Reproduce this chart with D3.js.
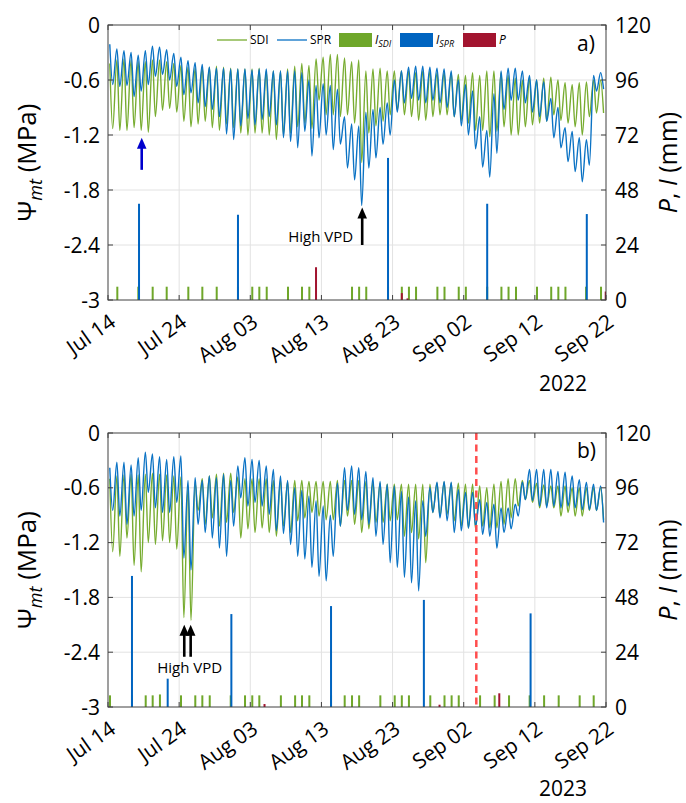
<!DOCTYPE html>
<html>
<head>
<meta charset="utf-8">
<script src="https://cdn.jsdelivr.net/npm/d3@7"></script>
<style>
  body { margin: 0; background: #fff; }
  text { font-family: "Open Sans", "Noto Sans", sans-serif; fill: #000; }
</style>
</head>
<body>
<svg id="chart" width="686" height="803"></svg>
<script>
// ---------- axis labels ----------
const dateTicks = ["Jul 14", "Jul 24", "Aug 03", "Aug 13", "Aug 23", "Sep 02", "Sep 12", "Sep 22"];
const dateTickDays = [0, 10, 20, 30, 40, 50, 60, 70];
const psiTicks = [0, -0.6, -1.2, -1.8, -2.4, -3];
const psiLabels = ["0", "-0.6", "-1.2", "-1.8", "-2.4", "-3"];
const mmTicks = [0, 24, 48, 72, 96, 120];

// ---------- 2022: daily maximum / minimum of Ψmt (MPa), one value per day from Jul 14 ----------
const sdiMax2022 = [-0.42,-0.38,-0.37,-0.38,-0.40,-0.40,-0.38,-0.38,-0.40,-0.42,
  -0.44,-0.46,-0.47,-0.46,-0.46,-0.45,-0.46,-0.47,-0.48,-0.48,
  -0.48,-0.47,-0.50,-0.50,-0.50,-0.48,-0.45,-0.42,-0.44,-0.37,
  -0.35,-0.32,-0.32,-0.36,-0.40,-0.38,-0.50,-0.48,-0.47,-0.50,
  -0.50,-0.50,-0.50,-0.52,-0.50,-0.50,-0.52,-0.52,-0.52,-0.54,
  -0.55,-0.52,-0.55,-0.50,-0.50,-0.52,-0.55,-0.58,-0.60,-0.58,
  -0.60,-0.58,-0.57,-0.60,-0.63,-0.65,-0.63,-0.62,-0.60,-0.60];
const sdiMin2022 = [-1.13,-1.15,-1.15,-1.12,-1.15,-1.17,-1.00,-0.93,-0.91,-0.95,
  -1.05,-1.11,-1.08,-1.05,-1.12,-1.15,-1.08,-1.12,-1.18,-1.20,
  -1.18,-1.18,-1.20,-1.25,-1.20,-1.18,-1.11,-1.07,-1.13,-0.82,
  -0.98,-0.98,-1.00,-0.98,-1.07,-1.50,-1.18,-1.10,-1.05,-0.98,
  -0.93,-0.98,-1.00,-1.04,-1.04,-1.00,-0.98,-0.98,-1.00,-1.04,
  -1.07,-1.15,-1.15,-1.22,-1.16,-1.11,-1.20,-1.20,-1.11,-1.09,
  -1.07,-1.05,-0.98,-1.04,-1.07,-1.11,-1.20,-1.00,-0.96,-0.96];
const sprMax2022 = [-0.21,-0.26,-0.28,-0.30,-0.33,-0.28,-0.23,-0.24,-0.27,-0.31,
  -0.35,-0.39,-0.41,-0.43,-0.46,-0.47,-0.47,-0.48,-0.48,-0.48,
  -0.49,-0.48,-0.48,-0.50,-0.50,-0.50,-0.50,-0.52,-0.60,-0.66,
  -0.64,-0.66,-0.70,-1.00,-1.08,-1.10,-0.95,-0.92,-0.90,-0.85,
  -0.60,-0.50,-0.46,-0.45,-0.45,-0.46,-0.47,-0.48,-0.50,-0.60,
  -0.65,-0.72,-1.00,-1.15,-0.75,-0.50,-0.47,-0.47,-0.50,-0.55,
  -0.60,-0.62,-0.80,-0.90,-1.12,-1.16,-1.23,-1.25,-0.55,-0.52];
const sprMin2022 = [-0.65,-0.67,-0.66,-0.78,-0.72,-0.65,-0.56,-0.54,-0.60,-0.67,
  -0.76,-0.74,-0.85,-0.89,-0.92,-1.00,-1.19,-1.25,-1.10,-1.02,
  -1.09,-1.03,-1.00,-1.09,-1.23,-1.27,-1.34,-1.16,-1.43,-1.23,
  -1.20,-1.36,-1.30,-1.56,-1.69,-1.97,-1.56,-1.45,-1.30,-1.20,
  -0.95,-0.85,-0.80,-0.82,-0.85,-0.82,-0.85,-0.90,-1.00,-1.10,
  -1.20,-1.35,-1.55,-1.66,-1.40,-0.92,-0.82,-0.82,-0.85,-0.95,
  -1.00,-1.05,-1.23,-1.34,-1.49,-1.60,-1.71,-1.53,-0.72,-0.70];

// ---------- 2023 ----------
const sdiMax2023 = [-0.50,-0.47,-0.46,-0.45,-0.46,-0.45,-0.44,-0.45,-0.46,-0.47,
  -0.48,-0.58,-0.55,-0.50,-0.47,-0.45,-0.44,-0.44,-0.48,-0.50,
  -0.50,-0.50,-0.50,-0.52,-0.52,-0.53,-0.52,-0.52,-0.53,-0.53,
  -0.53,-0.53,-0.52,-0.52,-0.52,-0.52,-0.53,-0.54,-0.55,-0.56,
  -0.56,-0.56,-0.56,-0.56,-0.56,-0.56,-0.55,-0.54,-0.55,-0.55,
  -0.56,-0.56,-0.58,-0.60,-0.56,-0.53,-0.50,-0.50,-0.52,-0.52,
  -0.55,-0.57,-0.58,-0.58,-0.58,-0.60,-0.60,-0.60,-0.60,-0.60];
const sdiMin2023 = [-1.30,-1.35,-1.15,-1.45,-1.52,-1.20,-1.22,-1.18,-1.20,-1.27,
  -2.02,-2.05,-0.85,-1.00,-0.93,-1.02,-0.98,-0.87,-1.15,-1.05,
  -1.09,-1.04,-1.09,-1.13,-1.02,-1.09,-0.96,-0.93,-0.87,-0.91,
  -0.95,-0.95,-1.02,-0.91,-1.00,-1.09,-1.05,-0.98,-0.98,-0.96,
  -0.95,-1.13,-1.09,-1.16,-1.42,-0.87,-0.91,-0.89,-0.96,-1.02,
  -1.04,-1.05,-1.02,-1.04,-1.04,-1.00,-0.93,-0.80,-0.73,-0.76,
  -0.82,-0.80,-0.82,-0.91,-0.87,-0.91,-0.91,-0.85,-0.85,-0.95];
const sprMax2023 = [-0.38,-0.32,-0.32,-0.35,-0.27,-0.21,-0.23,-0.26,-0.29,-0.26,
  -0.25,-0.52,-0.49,-0.52,-0.47,-0.49,-0.45,-0.52,-0.36,-0.27,
  -0.29,-0.30,-0.36,-0.40,-0.47,-0.52,-0.60,-0.63,-0.69,-0.74,
  -0.80,-0.90,-0.55,-0.38,-0.36,-0.38,-0.42,-0.49,-0.53,-0.56,
  -0.58,-0.64,-0.70,-0.74,-0.74,-0.60,-0.54,-0.53,-0.54,-0.62,
  -0.65,-0.65,-0.73,-0.76,-0.78,-0.82,-0.82,-0.78,-0.54,-0.40,
  -0.40,-0.40,-0.40,-0.42,-0.43,-0.47,-0.51,-0.54,-0.56,-0.58];
const sprMin2023 = [-0.85,-0.91,-1.00,-0.91,-0.85,-0.65,-0.82,-0.87,-0.87,-0.76,
  -1.37,-1.50,-1.00,-1.09,-1.15,-1.26,-1.35,-1.02,-0.71,-0.80,
  -0.76,-0.80,-0.89,-1.07,-1.10,-1.22,-1.35,-1.38,-1.47,-1.57,
  -1.62,-1.35,-1.02,-0.85,-0.89,-0.95,-1.00,-1.13,-1.22,-1.42,
  -1.47,-1.58,-1.64,-1.73,-1.13,-0.87,-0.93,-0.96,-1.09,-1.07,
  -1.04,-1.02,-1.11,-1.13,-1.26,-1.09,-1.05,-0.91,-0.73,-0.74,
  -0.80,-0.82,-0.80,-0.82,-0.80,-0.82,-0.84,-0.84,-0.85,-0.98];

// ---------- irrigation (I) and precipitation (P) events: day after Jul 14, amount in mm ----------
const iSdiDay2022 = [1.31,4.26,6.28,8.25,11.29,13.26,15.28,18.27,20.28,21.27,22.31,25.3,27.27,28.3,
  34.3,35.3,36.3,39.36,41.3,42.3,43.3,46.3,47.3,49.3,50.3,53.3,55.3,56.3,57.35,60.3,62.3,63.3,64.3,67.2,69.3];
const iSdiMm2022 = [5.8,5.8,5.8,5.8,5.8,5.8,5.8,5.8,5.8,5.8,5.8,5.8,5.8,5.8,
  5.8,5.8,5.8,5.8,5.8,5.8,5.8,5.8,5.8,5.8,5.8,5.8,5.8,5.8,5.8,5.8,5.8,5.8,5.8,5.8,5.8];
const iSprDay2022 = [4.36, 18.27, 39.36, 53.3, 67.3];
const iSprMm2022 = [42, 37.2, 62, 42, 37.5];
const pDay2022 = [29.24, 41.3, 42.1, 69.96];
const pMm2022 = [14.3, 3, 0.7, 3.7];

const iSdiDay2023 = [0.28,3.37,5.3,6.28,7.3,10.26,12.27,13.26,14.3,17.25,19.26,20.28,21.27,24.3,26.3,27.27,28.3,
  31.35,33.27,34.3,35.3,38.28,40.3,41.3,42.3,45.3,47.3,48.3,49.3,52.3,54.35,56.37,59.27,61.3,63.35,66.3,68.27];
const iSdiMm2023 = [5.1,5.1,5.1,5.1,5.5,5.1,5.1,5.1,5.1,5.1,5.1,5.1,5.1,5.1,5.1,5.1,5.1,
  5.1,5.1,5.1,5.1,5.1,5.1,5.1,5.1,5.1,5.1,5.1,5.1,5.1,5.1,5.1,5.1,5.1,5.1,5.1,5.1];
const iSprDay2023 = [3.37, 8.39, 17.34, 31.35, 44.4, 59.4];
const iSprMm2023 = [57.4, 12.4, 40.7, 44.2, 46.9, 41];
const pDay2023 = [22.0, 46.6, 55.0];
const pMm2023 = [1.3, 1, 6];
const markDay2023 = 51.77;   // dashed reference line

// ---------- annotations: arrows (day, tail Ψ, head Ψ) ----------
const arrows2022 = [
  { day: 4.74, from: -1.58, to: -1.23, color: "#0000cd" },
  { day: 35.73, from: -2.40, to: -1.99, color: "#000" }
];
const arrows2023 = [
  { day: 10.72, from: -2.45, to: -2.10, color: "#000" },
  { day: 11.62, from: -2.45, to: -2.10, color: "#000" }
];

// ---------- styles ----------
const C = {
  sdi: "#77ac30", spr: "#0a72c4",
  barSdi: "#6fa72a", barSpr: "#0064c0", barP: "#a2142f",
  grid: "#e2e2e2", axis: "#404040", mark: "#ff4d4d"
};
const PEAK = 0.25, TROUGH = 0.66;

const svg = d3.select("#chart");
const X0 = 108, X1 = 606;
const xs = d3.scaleLinear().domain([0, 70]).range([X0, X1]);

function diurnal(maxArr, minArr) {
  const pts = [];
  maxArr.forEach((v, i) => { pts.push([i + PEAK, v]); pts.push([i + TROUGH, minArr[i]]); });
  return pts;
}

function drawPanel(cfg) {
  const { top, bottom } = cfg;
  const ys = d3.scaleLinear().domain([-3, 0]).range([bottom, top]);
  const yr = d3.scaleLinear().domain([0, 120]).range([bottom, top]);
  const g = svg.append("g");
  const clipId = "clip" + cfg.year;
  svg.append("clipPath").attr("id", clipId)
    .append("rect").attr("x", X0).attr("y", top).attr("width", X1 - X0).attr("height", bottom - top);

  // grid
  g.selectAll(".gy").data(psiTicks.slice(1, -1)).join("line")
    .attr("x1", X0).attr("x2", X1).attr("y1", d => ys(d)).attr("y2", d => ys(d))
    .attr("stroke", C.grid).attr("stroke-width", 1);
  g.selectAll(".gx").data(dateTickDays.slice(1, -1)).join("line")
    .attr("x1", d => xs(d)).attr("x2", d => xs(d)).attr("y1", top).attr("y2", bottom)
    .attr("stroke", C.grid).attr("stroke-width", 1);

  // bars (right axis)
  const bars = g.append("g").attr("clip-path", `url(#${clipId})`);
  function barSet(days, mm, color) {
    bars.append("g").selectAll("rect").data(days.map((d, i) => [d, mm[i]])).join("rect")
      .attr("x", d => xs(d[0]) - 1).attr("width", 2)
      .attr("y", d => yr(d[1])).attr("height", d => bottom - yr(d[1]))
      .attr("fill", color);
  }
  barSet(cfg.iSdiDay, cfg.iSdiMm, C.barSdi);
  barSet(cfg.iSprDay, cfg.iSprMm, C.barSpr);
  barSet(cfg.pDay, cfg.pMm, C.barP);

  // lines (left axis)
  const line = d3.line().x(d => xs(d[0])).y(d => ys(d[1])).curve(d3.curveMonotoneX);
  const lines = g.append("g").attr("clip-path", `url(#${clipId})`);
  lines.append("path").attr("d", line(diurnal(cfg.sdiMax, cfg.sdiMin)))
    .attr("fill", "none").attr("stroke", C.sdi).attr("stroke-width", 1.4);
  lines.append("path").attr("d", line(diurnal(cfg.sprMax, cfg.sprMin)))
    .attr("fill", "none").attr("stroke", C.spr).attr("stroke-width", 1.4);

  if (cfg.markDay != null) {
    g.append("line").attr("x1", xs(cfg.markDay)).attr("x2", xs(cfg.markDay))
      .attr("y1", top).attr("y2", bottom)
      .attr("stroke", C.mark).attr("stroke-width", 2.5).attr("stroke-dasharray", "7,4.5");
  }

  // frame + ticks
  g.append("rect").attr("x", X0).attr("y", top).attr("width", X1 - X0).attr("height", bottom - top)
    .attr("fill", "none").attr("stroke", C.axis).attr("stroke-width", 1);
  dateTickDays.forEach(d => {
    g.append("line").attr("x1", xs(d)).attr("x2", xs(d)).attr("y1", bottom).attr("y2", bottom - 5).attr("stroke", C.axis);
    g.append("line").attr("x1", xs(d)).attr("x2", xs(d)).attr("y1", top).attr("y2", top + 5).attr("stroke", C.axis);
  });
  psiTicks.forEach(v => {
    g.append("line").attr("x1", X0).attr("x2", X0 + 5).attr("y1", ys(v)).attr("y2", ys(v)).attr("stroke", C.axis);
    g.append("line").attr("x1", X1).attr("x2", X1 - 5).attr("y1", ys(v)).attr("y2", ys(v)).attr("stroke", C.axis);
  });

  // tick labels
  g.selectAll(".yl").data(psiTicks).join("text")
    .attr("x", X0 - 8).attr("y", d => ys(d)).attr("dy", "0.36em")
    .attr("text-anchor", "end").attr("font-size", 21)
    .text((d, i) => psiLabels[i]);
  g.selectAll(".yr").data(mmTicks).join("text")
    .attr("x", X1 + 9).attr("y", d => yr(d)).attr("dy", "0.36em")
    .attr("text-anchor", "start").attr("font-size", 21)
    .text(d => d);
  g.selectAll(".xl").data(dateTickDays).join("text")
    .attr("transform", d => `translate(${xs(d) + 9},${bottom + 25}) rotate(-35)`)
    .attr("text-anchor", "end").attr("font-size", 21)
    .text((d, i) => dateTicks[i]);

  // year
  g.append("text").attr("x", 563).attr("y", cfg.yearY).attr("text-anchor", "middle")
    .attr("font-size", 21).text(cfg.year);

  // axis titles
  const midY = (top + bottom) / 2;
  const yl = g.append("text").attr("transform", `translate(36,${midY}) rotate(-90)`)
    .attr("text-anchor", "middle").attr("font-size", 26);
  yl.append("tspan").text("Ψ");
  yl.append("tspan").attr("font-style", "italic").attr("font-size", 18).attr("dy", 6).text("mt");
  yl.append("tspan").attr("dy", -6).text(" (MPa)");
  const yr2 = g.append("text").attr("transform", `translate(677,${midY}) rotate(-90)`)
    .attr("text-anchor", "middle").attr("font-size", 25);
  yr2.append("tspan").attr("font-style", "italic").text("P");
  yr2.append("tspan").text(", ");
  yr2.append("tspan").attr("font-style", "italic").text("I");
  yr2.append("tspan").text(" (mm)");

  // panel tag
  g.append("text").attr("x", 577).attr("y", top + cfg.tagDy).attr("font-size", 21).text(cfg.tag);

  // arrows
  cfg.arrows.forEach(a => {
    const ax = xs(a.day), yT = ys(a.from), yH = ys(a.to);
    g.append("line").attr("x1", ax).attr("x2", ax).attr("y1", yT).attr("y2", yH + 8)
      .attr("stroke", a.color).attr("stroke-width", 2.6);
    g.append("path").attr("d", `M${ax},${yH} L${ax - 4.8},${yH + 11} L${ax + 4.8},${yH + 11} Z`)
      .attr("fill", a.color);
  });
  if (cfg.vpd) {
    g.append("text").attr("x", cfg.vpd.x).attr("y", ys(cfg.vpd.psi))
      .attr("text-anchor", cfg.vpd.anchor).attr("font-size", 15).text("High VPD");
  }
  return { g, ys, yr };
}

drawPanel({
  top: 25, bottom: 300, year: "2022", yearY: 391, tag: "a)", tagDy: 26,
  sdiMax: sdiMax2022, sdiMin: sdiMin2022, sprMax: sprMax2022, sprMin: sprMin2022,
  iSdiDay: iSdiDay2022, iSdiMm: iSdiMm2022, iSprDay: iSprDay2022, iSprMm: iSprMm2022,
  pDay: pDay2022, pMm: pMm2022, arrows: arrows2022,
  vpd: { x: xs(35.73) - 9, psi: -2.37, anchor: "end" }
});
drawPanel({
  top: 433, bottom: 707, year: "2023", yearY: 796, tag: "b)", tagDy: 25,
  sdiMax: sdiMax2023, sdiMin: sdiMin2023, sprMax: sprMax2023, sprMin: sprMin2023,
  iSdiDay: iSdiDay2023, iSdiMm: iSdiMm2023, iSprDay: iSprDay2023, iSprMm: iSprMm2023,
  pDay: pDay2023, pMm: pMm2023, arrows: arrows2023, markDay: markDay2023,
  vpd: { x: xs(11.2) + 2, psi: -2.63, anchor: "middle" }
});

// legend (top panel)
const lg = svg.append("g").attr("font-size", 12);
const ly = 40;
function lineKey(x, color, label) {
  lg.append("line").attr("x1", x).attr("x2", x + 30).attr("y1", ly).attr("y2", ly)
    .attr("stroke", color).attr("stroke-width", 1.3);
  lg.append("text").attr("x", x + 33).attr("y", ly).attr("dy", "0.36em").text(label);
}
function patchKey(x, color, main, sub) {
  lg.append("rect").attr("x", x).attr("y", ly - 7).attr("width", 33).attr("height", 14)
    .attr("fill", color);
  const t = lg.append("text").attr("x", x + 36).attr("y", ly).attr("dy", "0.36em");
  t.append("tspan").attr("font-style", "italic").text(main);
  if (sub) t.append("tspan").attr("font-style", "italic").attr("font-size", 9).attr("dy", 3).text(sub);
}
lineKey(217, C.sdi, "SDI");
lineKey(277, C.spr, "SPR");
patchKey(339, C.barSdi, "I", "SDI");
patchKey(400, C.barSpr, "I", "SPR");
patchKey(463, C.barP, "P", null);
</script>
</body>
</html>
